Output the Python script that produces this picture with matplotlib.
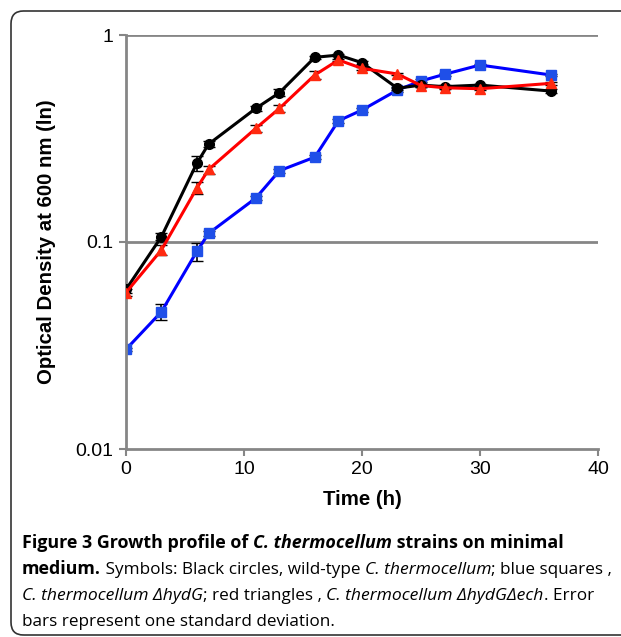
import numpy as np
import matplotlib
matplotlib.use("Agg")
import matplotlib.pyplot as plt
from matplotlib.patches import FancyBboxPatch

# time points (h)
t = [0, 3, 6, 7, 11, 13, 16, 18, 20, 23, 25, 27, 30, 36]

# wild-type, black circles
wt = [0.059, 0.106, 0.240, 0.297, 0.442, 0.526, 0.780, 0.800, 0.735, 0.553, 0.573, 0.563, 0.573, 0.536]
wt_err = [0.002, 0.004, 0.02, 0.01, 0.012, 0.02, 0.015, 0.01, 0.01, 0.01, 0.01, 0.01, 0.01, 0.01]

# hydG, blue squares
hydg = [0.0303, 0.046, 0.090, 0.110, 0.163, 0.221, 0.257, 0.385, 0.434, 0.542, 0.600, 0.646, 0.716, 0.641]
hydg_err = [0.0005, 0.004, 0.009, 0.003, 0.003, 0.005, 0.005, 0.01, 0.01, 0.01, 0.01, 0.01, 0.01, 0.01]

# hydG ech, red triangles
ech = [0.057, 0.0915, 0.182, 0.224, 0.354, 0.442, 0.641, 0.757, 0.690, 0.648, 0.570, 0.556, 0.550, 0.584]
ech_err = [0.002, 0.005, 0.012, 0.01, 0.015, 0.015, 0.03, 0.01, 0.01, 0.01, 0.01, 0.01, 0.01, 0.01]

W, H = 621, 637
fig = plt.figure(figsize=(W / 100, H / 100), dpi=100)

# rounded frame around the figure
frame = FancyBboxPatch((11 / W, 2 / H), 640 / W, 624 / H,
                       boxstyle="round,pad=0,rounding_size=0.02",
                       transform=fig.transFigure, fill=False,
                       edgecolor="#333333", linewidth=1.2)
fig.patches.append(frame)

ax = fig.add_axes([126 / W, 1 - 449 / H, (598 - 126) / W, (449 - 35) / H])
ax.set_yscale("log")
ax.set_xlim(0, 40)
ax.set_ylim(0.01, 1)

grey = "#868686"
for yv in [0.1, 1]:
    ax.axhline(yv, color=grey, lw=2, zorder=0)

ax.errorbar(t, wt, yerr=wt_err, color="black", lw=2.2, marker="o", ms=7,
            mfc="black", mec="black", ecolor="black", elinewidth=1.2, capsize=4, zorder=3)
ax.errorbar(t, ech, yerr=ech_err, color="#ff0000", lw=2.2, marker="^", ms=7,
            mfc="#ff2a10", mec="#ff2a10", ecolor="black", elinewidth=1.2, capsize=4, zorder=4)
ax.errorbar(t, hydg, yerr=hydg_err, color="#0000ff", lw=2.2, marker="s", ms=7,
            mfc="#1f4fe8", mec="#1f4fe8", ecolor="black", elinewidth=1.2, capsize=4, zorder=2)

for s in ["top", "right"]:
    ax.spines[s].set_visible(False)
for s in ["left", "bottom"]:
    ax.spines[s].set_color(grey)
    ax.spines[s].set_linewidth(2)

ax.set_xticks([0, 10, 20, 30, 40])
ax.set_yticks([0.01, 0.1, 1])
ax.set_yticklabels(["0.01", "0.1", "1"])
ax.minorticks_off()
ax.tick_params(axis="both", colors=grey, length=5, width=1.5, labelcolor="black",
               labelsize=14, pad=4)
for lab in ax.get_xticklabels() + ax.get_yticklabels():
    lab.set_family("Liberation Sans")

ax.set_xlabel("Time (h)", fontsize=14.7, fontweight="bold", family="Liberation Sans", labelpad=8)
ax.set_ylabel("Optical Density at 600 nm (ln)", fontsize=14.7, fontweight="bold",
              family="Liberation Sans", labelpad=14)

# caption drawn as consecutive runs of text
renderer = fig.canvas.get_renderer()
cap_font = "Open Sans"
sizes = {("bold", "normal"): 12.9, ("bold", "italic"): 12.9,
         ("normal", "normal"): 12.3, ("normal", "italic"): 12.6}


def draw_runs(x0, y, runs):
    x = x0
    for txt, weight, style in runs:
        tt = fig.text(x / W, 1 - y / H, txt, fontsize=sizes[(weight, style)], family=cap_font,
                      fontweight=weight, style=style, va="baseline", ha="left")
        x += tt.get_window_extent(renderer).width


caption = [
    [("Figure 3 Growth profile of ", "bold", "normal"), ("C. thermocellum", "bold", "italic"),
     (" strains on minimal", "bold", "normal")],
    [("medium.", "bold", "normal"), (" Symbols: Black circles, wild-type ", "normal", "normal"),
     ("C. thermocellum", "normal", "italic"), ("; blue squares ,", "normal", "normal")],
    [("C. thermocellum \u0394hydG", "normal", "italic"), ("; red triangles , ", "normal", "normal"),
     ("C. thermocellum \u0394hydG\u0394ech", "normal", "italic"), (". Error", "normal", "normal")],
    [("bars represent one standard deviation.", "normal", "normal")],
]
baselines = [548, 574, 600, 626]
for runs, yb in zip(caption, baselines):
    draw_runs(22, yb, runs)

fig.savefig("out.png", dpi=100)
